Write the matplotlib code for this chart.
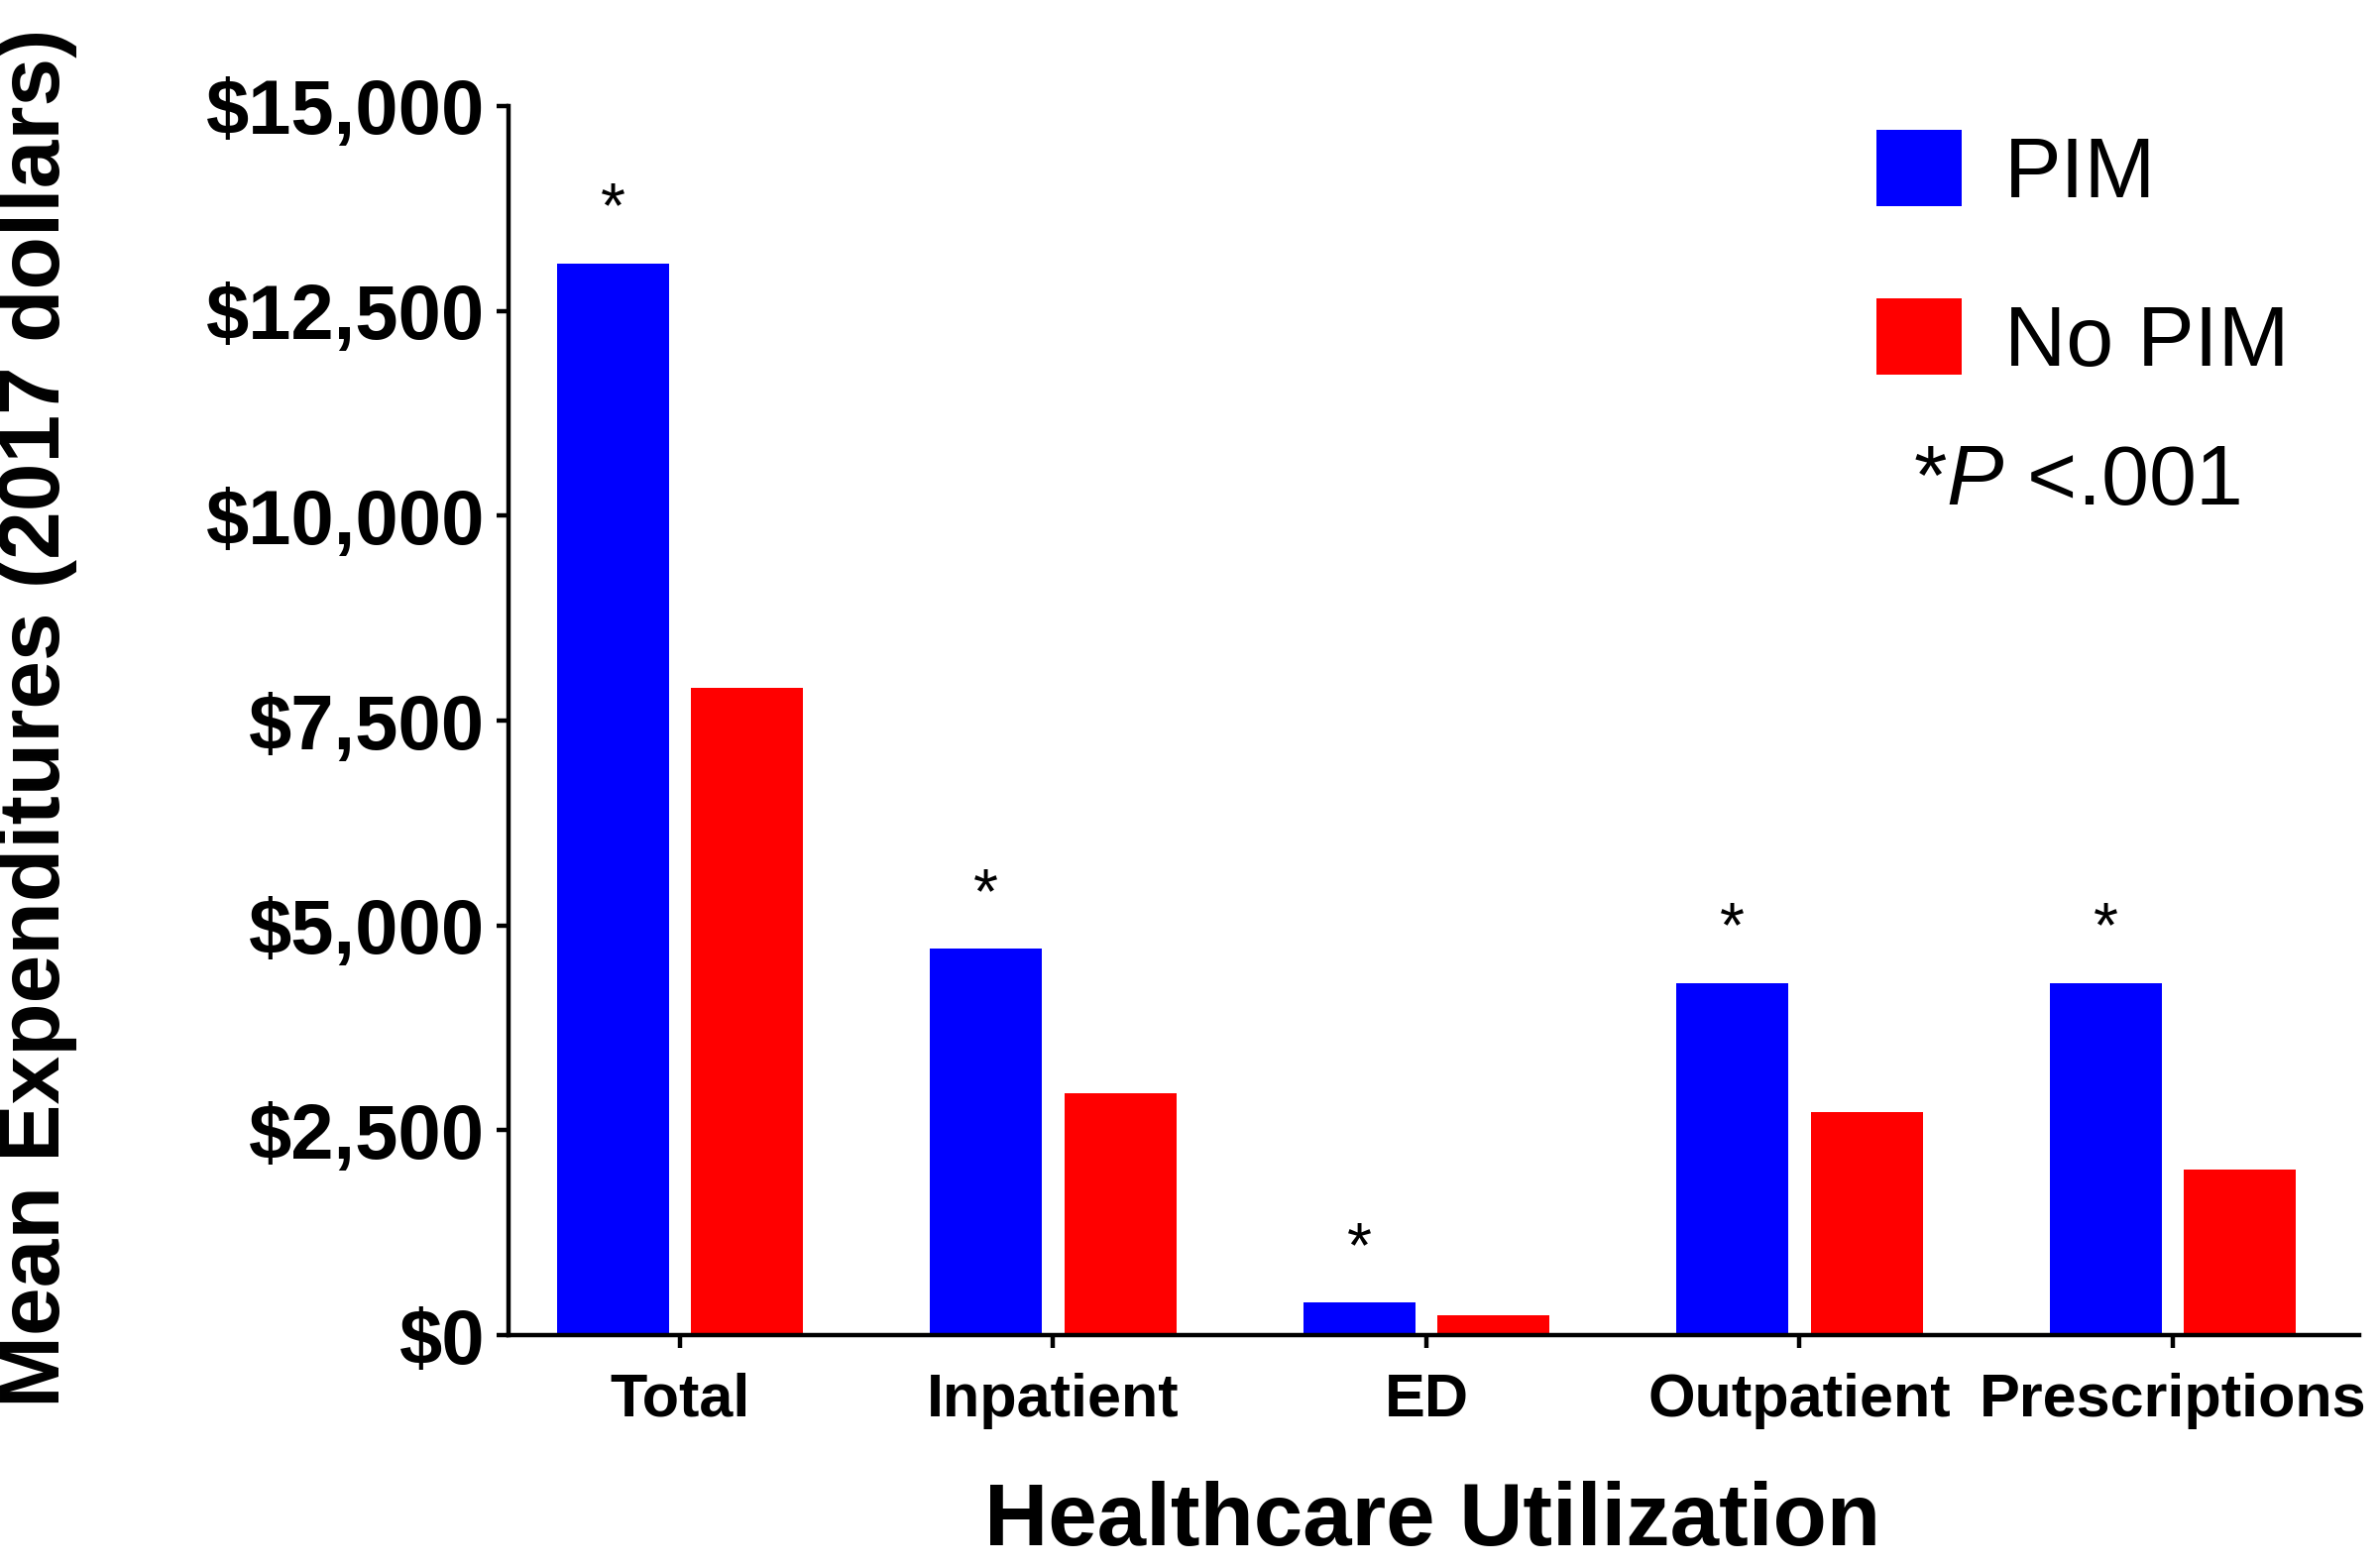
import numpy as np
import matplotlib
matplotlib.use("Agg")
import matplotlib.pyplot as plt
from matplotlib.ticker import FuncFormatter

plt.rcParams['font.family'] = ['Liberation Sans', 'DejaVu Sans']
plt.rcParams['mathtext.fontset'] = 'custom'
plt.rcParams['mathtext.rm'] = 'Liberation Sans'
plt.rcParams['mathtext.it'] = 'Liberation Sans:italic'

# data
categories = ["Total", "Inpatient", "ED", "Outpatient", "Prescriptions"]
pim = [13080, 4720, 400, 4300, 4300]
no_pim = [7900, 2950, 240, 2720, 2020]
significant = [True, True, True, True, True]
yticks = [0, 2500, 5000, 7500, 10000, 12500, 15000]

fig = plt.figure(figsize=(24, 15.82), dpi=100)
ax = fig.add_axes([0.2137, 0.1485, 0.9917 - 0.2137, 0.9324 - 0.1485])

x = np.arange(len(categories))
w = 0.30
off = 0.18
b1 = ax.bar(x - off, pim, w, color="#0000FF", label="PIM")
b2 = ax.bar(x + off, no_pim, w, color="#FF0000", label="No PIM")

for xi, v, s in zip(x, pim, significant):
    if s:
        ax.text(xi - off, v + 280, "*", ha="center", va="bottom", fontsize=46)

ax.set_xlim(-0.46, 4.5)
ax.set_ylim(0, 15000)
ax.set_yticks(yticks)
ax.yaxis.set_major_formatter(FuncFormatter(lambda v, p: "${:,.0f}".format(v)))
ax.set_xticks(x)
ax.set_xticklabels(categories)

for sp in ["top", "right"]:
    ax.spines[sp].set_visible(False)
for sp in ["left", "bottom"]:
    ax.spines[sp].set_linewidth(3.2)

ax.tick_params(axis="y", width=3.2, length=9, pad=8, labelsize=56)
ax.tick_params(axis="x", width=3.2, length=9, pad=18, labelsize=44)
for lab in ax.get_yticklabels() + ax.get_xticklabels():
    lab.set_fontweight("bold")

fig.text(38 / 2400, 1 - 724 / 1582, "Mean Expenditures (2017 dollars)", rotation=90,
         ha="center", va="center", fontsize=63, fontweight="bold")
fig.text(1445 / 2400, 1 - 1536 / 1582, "Healthcare Utilization",
         ha="center", va="center", fontsize=64, fontweight="bold")

leg = fig.legend(handles=[b1, b2], loc="upper left",
                 bbox_to_anchor=(1893 / 2400, 1 - 131 / 1582),
                 frameon=False, fontsize=62, handlelength=1.0, handleheight=1.0,
                 handletextpad=0.5, labelspacing=0.98, borderpad=0, borderaxespad=0)

fig.text(1930 / 2400, 1 - 487 / 1582, "*$P$ <.001", ha="left", va="center", fontsize=62)

fig.savefig("out.png", dpi=100)
